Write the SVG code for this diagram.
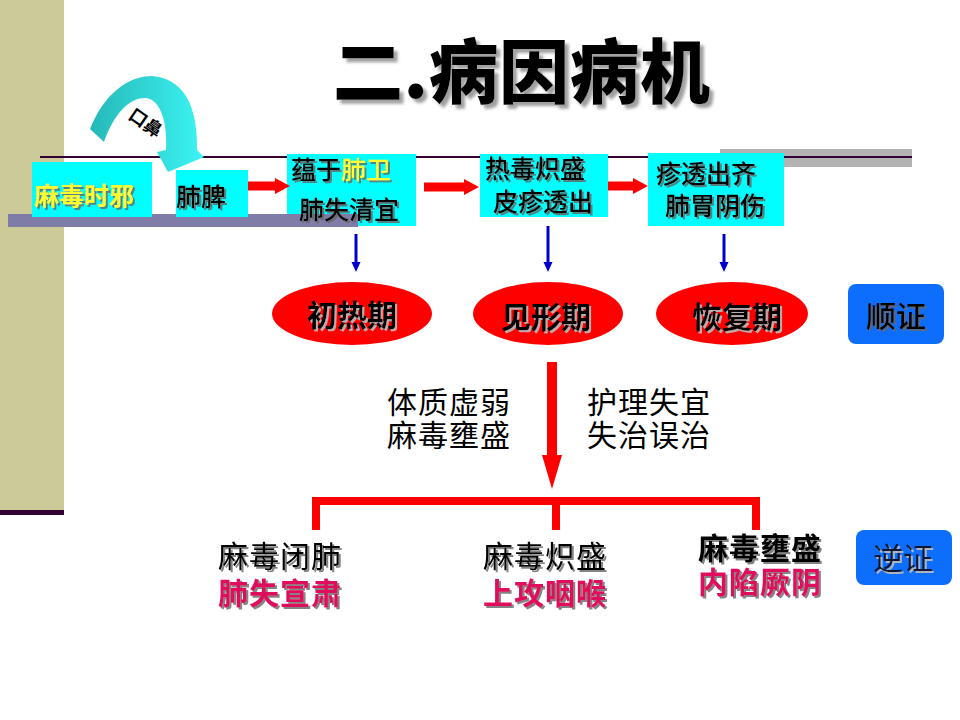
<svg xmlns="http://www.w3.org/2000/svg" width="960" height="720" viewBox="0 0 960 720">
<defs>
<style>
.cjk{font-family:"Noto Sans CJK SC","Noto Sans",sans-serif}
.box{fill:#00FFFF}
.bt{font-size:25px;fill:#000;font-weight:500}
.ell{fill:#FF0000}
.et{font-size:30px;font-weight:700;fill:#000;text-anchor:middle}
.mid{font-size:30px;fill:#000;letter-spacing:1px}
.blk{font-size:30px;fill:#000;letter-spacing:1px}
.mag{fill:#E0115F;font-weight:700}
.blue{fill:#0D6EFD}
.red{stroke:#FF0000;fill:none}
.bl{stroke:#0000CC;stroke-width:3;fill:none}
</style>
<filter id="sh" x="-10%" y="-10%" width="130%" height="140%">
<feDropShadow dx="2" dy="2" stdDeviation="0.6" flood-color="#666" flood-opacity="0.8"/>
</filter>
<filter id="shl" x="-10%" y="-10%" width="130%" height="140%">
<feDropShadow dx="2" dy="2" stdDeviation="0.6" flood-color="#bbb" flood-opacity="0.9"/>
</filter>
<filter id="sht" x="-10%" y="-10%" width="130%" height="140%">
<feDropShadow dx="4" dy="4" stdDeviation="1.5" flood-color="#888" flood-opacity="0.8"/>
</filter>
<marker id="rh" markerUnits="userSpaceOnUse" markerWidth="16" markerHeight="18" refX="0" refY="9" orient="auto">
<path d="M0,1 L15,9 L0,17 Z" fill="#FF0000"/>
</marker>
<marker id="bh" markerUnits="userSpaceOnUse" markerWidth="12" markerHeight="12" refX="0" refY="6" orient="auto">
<path d="M0,1.5 L10,6 L0,10.5 Z" fill="#0000CC"/>
</marker>
<marker id="bigh" markerUnits="userSpaceOnUse" markerWidth="36" markerHeight="24" refX="0" refY="12" orient="auto">
<path d="M0,2 L34,12 L0,22 Z" fill="#FF0000"/>
</marker>
<linearGradient id="cg" x1="90" y1="0" x2="205" y2="0" gradientUnits="userSpaceOnUse">
<stop offset="0" stop-color="#26B8B8"/>
<stop offset="1" stop-color="#3CF4F4"/>
</linearGradient>
</defs>

<rect width="960" height="720" fill="#FFFFFF"/>

<g id="background">
<rect x="0" y="0" width="64" height="510" fill="#CCCA99"/>
<rect x="0" y="510" width="64" height="5" fill="#330033"/>
<rect x="720" y="149" width="192" height="18" fill="#B2B2B2"/>
<line x1="40" y1="157" x2="912" y2="157" stroke="#330033" stroke-width="2"/>
</g>

<g id="title">
<text class="cjk" x="333" y="98" font-size="70" font-weight="900" fill="#000" textLength="377" lengthAdjust="spacing" filter="url(#sht)">二.病因病机</text>
</g>

<g id="node-feiwei">
<rect class="box" x="287" y="154" width="129" height="72"/>
<rect id="bar" x="8" y="214" width="350" height="13" fill="#7F7DA8"/>
<text class="cjk bt" x="291" y="179" filter="url(#sh)">蕴于<tspan fill="#FFFF33">肺卫</tspan></text>
<text class="cjk bt" x="299" y="219" filter="url(#sh)">肺失清宜</text>
</g>

<g id="node-maduo">
<rect class="box" x="32" y="162" width="120" height="55"/>
<text class="cjk" x="34" y="205" font-size="25" font-weight="700" fill="#FFFF33" filter="url(#sh)">麻毒时邪</text>
</g>

<g id="node-feipi">
<rect class="box" x="176" y="170" width="72" height="47"/>
<text class="cjk bt" x="176" y="206" filter="url(#sh)">肺脾</text>
</g>

<g id="node-redu">
<rect class="box" x="480" y="154" width="128" height="63"/>
<text class="cjk bt" x="485" y="178" filter="url(#sh)">热毒炽盛</text>
<text class="cjk bt" x="493" y="211" filter="url(#sh)">皮疹透出</text>
</g>

<g id="node-zhentou">
<rect class="box" x="648" y="153" width="136" height="73"/>
<text class="cjk bt" x="656" y="183" filter="url(#sh)">疹透出齐</text>
<text class="cjk bt" x="665" y="215" filter="url(#sh)">肺胃阴伤</text>
</g>

<g id="node-chure">
<ellipse class="ell" cx="352" cy="313.5" rx="80" ry="31.5"/>
<text class="cjk et" x="352" y="326" filter="url(#shl)">初热期</text>
</g>

<g id="node-jianxing">
<ellipse class="ell" cx="548" cy="313.5" rx="75" ry="31.5"/>
<text class="cjk et" x="546" y="328" filter="url(#shl)">见形期</text>
</g>

<g id="node-huifu">
<ellipse class="ell" cx="732" cy="313.5" rx="76" ry="31.5"/>
<text class="cjk et" x="737" y="328" filter="url(#shl)">恢复期</text>
</g>

<g id="node-shunzheng">
<rect class="blue" x="848" y="284" width="96" height="60" rx="8"/>
<text class="cjk" x="896" y="327" font-size="30" font-weight="500" fill="#000" text-anchor="middle" filter="url(#sh)">顺证</text>
</g>

<g id="label-left">
<text class="cjk mid" x="387" y="413">体质虚弱<tspan x="387" dy="33">麻毒壅盛</tspan></text>
</g>

<g id="label-right">
<text class="cjk mid" x="587" y="413">护理失宜<tspan x="587" dy="33">失治误治</tspan></text>
</g>

<g id="node-bifei">
<text class="cjk blk" x="218" y="567" filter="url(#sh)">麻毒闭肺<tspan class="mag" x="218" dy="37">肺失宣肃</tspan></text>
</g>

<g id="node-chisheng">
<text class="cjk blk" x="483" y="567" filter="url(#sh)">麻毒炽盛<tspan class="mag" x="483" dy="37">上攻咽喉</tspan></text>
</g>

<g id="node-yongsheng">
<text class="cjk blk" x="698" y="559" filter="url(#sh)"><tspan font-weight="700">麻毒壅盛</tspan><tspan class="mag" x="698" dy="34">内陷厥阴</tspan></text>
</g>

<g id="node-nizheng">
<rect class="blue" x="856" y="530" width="96" height="55" rx="8"/>
<text class="cjk" x="903" y="569" font-size="30" font-weight="400" fill="#101830" text-anchor="middle" filter="url(#shl)">逆证</text>
</g>

<g id="connectors">
<path d="M90,129 C104,94 128,76 152,76 C181,78 198,102 197,150 L204,157 L168,172 L157,152 L166,150 C168,118 158,98 145,98 C128,98 113,116 104,142 Z" fill="url(#cg)"/>
<text class="cjk" x="0" y="0" font-size="18" font-weight="700" fill="#000" text-anchor="middle" transform="translate(142,128) rotate(35)">口鼻</text>
<line class="red" x1="248" y1="186" x2="275" y2="186" stroke-width="9" marker-end="url(#rh)"/>
<line class="red" x1="424" y1="187" x2="464" y2="187" stroke-width="9" marker-end="url(#rh)"/>
<line class="red" x1="608" y1="186" x2="633" y2="186" stroke-width="9" marker-end="url(#rh)"/>
<line class="bl" x1="356" y1="234" x2="356" y2="262" marker-end="url(#bh)"/>
<line class="bl" x1="548" y1="226" x2="548" y2="262" marker-end="url(#bh)"/>
<line class="bl" x1="724" y1="234" x2="724" y2="262" marker-end="url(#bh)"/>
<line class="red" x1="552" y1="362" x2="552" y2="455" stroke-width="10" marker-end="url(#bigh)"/>
<path class="red" d="M316,530 V501 H756 V530 M556,501 V530" stroke-width="8"/>
</g>
</svg>
